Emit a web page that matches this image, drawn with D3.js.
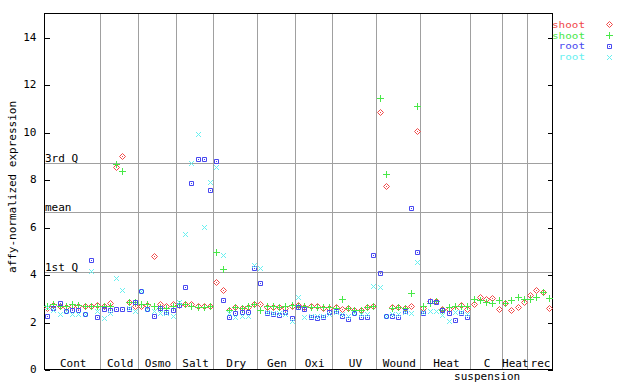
<!DOCTYPE html>
<html>
<head>
<meta charset="utf-8">
<script src="https://cdn.jsdelivr.net/npm/d3@7"></script>
<style>
  body { margin: 0; background: #fff; }
  svg { display: block; }
  text { font-family: "DejaVu Sans Mono", monospace; font-size: 11px; fill: #000; }
</style>
</head>
<body>
<svg id="chart" width="640" height="384"></svg>
<script>
// groups of samples along the x axis
const groups = ['Cont', 'Cold', 'Osmo', 'Salt', 'Dry', 'Gen', 'Oxi', 'UV', 'Wound', 'Heat', 'C\nsuspension', 'Heat', 'rec']
const groupSizes = [9, 6, 6, 6, 7, 6, 6, 7, 7, 8, 5, 4, 4]

// shoot / root replicates, one value per sample (null = not measured)
const shootA = [2.56, 2.68, 2.65, 2.62, 2.64, 2.64, 2.66, 2.66, 2.68,
  2.66, 2.77, 8.50, 8.98, 2.81, 2.66,
  2.66, 2.68, 4.75, 2.72, 2.64, 2.72,
  2.70, 2.72, 2.72, 2.66, 2.64, 2.66,
  3.67, 3.33, 2.49, 2.60, 2.56, 2.63, 2.73,
  2.75, 2.62, 2.62, 2.62, 2.55, 2.66,
  2.68, 2.62, 2.64, 2.64, 2.58, 2.58,
  2.60, 2.53, 2.56, 2.50, 2.49, 2.63, 2.66,
  10.82, 7.71, 2.60, 2.60, 2.56, 2.65, 10.02,
  2.58, 2.87, 2.87, 2.51, 2.54, 2.54, 2.70, 2.54,
  2.72, 3.05, 2.94, 2.98, 2.52,
  2.80, 2.49, 2.60, 2.81,
  3.12, 3.32, 3.24, 2.56]
const shootB = [2.65, 2.72, 2.65, 2.65, 2.74, 2.68, 2.66, 2.66, 2.66,
  2.66, 2.64, 8.64, 8.34, 2.81, 2.81,
  2.75, 2.72, 2.66, 2.56, 2.56, 2.66,
  2.72, 2.74, 2.66, 2.63, 2.60, 2.66,
  4.93, 4.21, 2.49, 2.63, 2.58, 2.67, 2.73,
  2.49, 2.66, 2.66, 2.60, 2.66, 2.68,
  2.66, 2.64, 2.60, 2.60, 2.62, 2.62,
  2.58, 2.95, 2.56, 2.49, 2.49, 2.63, 2.66,
  11.41, 8.22, 2.58, 2.60, 2.56, 3.19, 11.07,
  2.67, 2.80, 2.87, 2.49, 2.60, 2.64, 2.64, 2.64,
  2.94, 2.91, 2.81, 2.77, 2.91,
  2.78, 2.91, 3.05, 2.94,
  2.94, 3.05, 3.24, 3.00]
const rootA = [2.23, 2.56, 2.77, 2.46, 2.49, 2.49, 2.30, 4.59, 2.18,
  2.51, 2.49, 2.51, 2.51, 2.51, 2.81,
  3.30, 2.51, 2.25, 2.56, 2.39, 2.49,
  2.70, 3.47, 7.82, 8.85, 8.85, 7.54,
  8.77, 2.91, 2.20, 2.35, 2.42, 2.42, 4.24,
  3.61, 2.35, 2.30, 2.28, 2.42, 2.14,
  2.60, 2.51, 2.18, 2.14, 2.20, 2.42,
  2.46, 2.23, 2.11, 2.37, 2.20, 2.18, 4.79,
  4.03, 2.23, 2.23, 2.18, 2.44, 6.77, 4.92,
  2.35, 2.87, 2.84, 2.49, 2.35, 2.06, 2.35, 2.18,
  null, null, null, null, null,
  null, null, null, null,
  null, null, null, null]
const rootB = [2.60, 2.50, 2.30, 2.46, 2.30, 2.30, 2.30, 4.13, 2.44,
  2.14, 2.35, 3.85, 3.33, 2.55, 2.44,
  3.30, 2.51, 2.45, 2.35, 2.35, 2.25,
  2.84, 5.68, 8.67, 9.90, 5.97, 7.87,
  8.50, 4.79, 2.35, 2.20, 2.25, 2.25, 4.38,
  4.24, 2.42, 2.35, 2.35, 2.30, 2.04,
  3.05, 2.20, 2.25, 2.25, 2.25, 2.30,
  2.40, 2.30, 2.25, 2.37, 2.30, 2.30, 3.50,
  3.47, 2.23, 2.30, 2.30, 2.40, 2.35, 4.50,
  2.40, 2.44, 2.44, 2.28, 2.04, 2.40, 2.40, 2.30,
  null, null, null, null, null,
  null, null, null, null,
  null, null, null, null]

const seriesNames = ['shoot', 'shoot', 'root', 'root']
const seriesColors = ['#f04848', '#48e848', '#4848f0', '#68f0f0']
const seriesShapes = ['diamond', 'plus', 'box', 'cross']

// summary lines
const statNames = ['3rd Q', 'mean', '1st Q']
const statValues = [8.68, 6.61, 4.08]

const yTicks = [0, 2, 4, 6, 8, 10, 12, 14]

const svg = d3.select('#chart')
const margin = { left: 44, right: 552, top: 13, bottom: 369 }
const nSamples = d3.sum(groupSizes)

const x = d3.scaleLinear().domain([0, nSamples]).range([margin.left, margin.right])
const y = d3.scaleLinear().domain([0, 15]).range([margin.bottom, margin.top])
const px = v => Math.round(v) + 0.5

// group boundaries
const bounds = d3.cumsum(groupSizes)
const starts = [0, ...bounds.slice(0, -1)]

const gridG = svg.append('g').attr('shape-rendering', 'crispEdges')
gridG.selectAll('line.sep')
  .data(bounds.slice(0, -1))
  .enter().append('line')
  .attr('x1', d => px(x(d))).attr('x2', d => px(x(d)))
  .attr('y1', margin.top).attr('y2', margin.bottom)
  .attr('stroke', '#a0a0a0')

gridG.selectAll('line.stat')
  .data(statValues)
  .enter().append('line')
  .attr('x1', margin.left).attr('x2', margin.right)
  .attr('y1', d => px(y(d))).attr('y2', d => px(y(d)))
  .attr('stroke', '#a0a0a0')

svg.append('g').selectAll('text')
  .data(statValues)
  .enter().append('text')
  .attr('x', margin.left + 1)
  .attr('y', d => y(d) - 1)
  .text((d, i) => statNames[i])

// axes (ticks inside, mirrored on the right)
const yAxisL = d3.axisLeft(y).tickValues(yTicks).tickSizeInner(-5).tickSizeOuter(0).tickPadding(8)
const yAxisR = d3.axisRight(y).tickValues(yTicks).tickSizeInner(-5).tickSizeOuter(0).tickFormat('')
const gl = svg.append('g').attr('transform', `translate(${margin.left + 0.5},0)`).call(yAxisL)
const gr = svg.append('g').attr('transform', `translate(${margin.right + 0.5},0)`).call(yAxisR)
for (const g of [gl, gr]) {
  g.select('.domain').remove()
  g.attr('font-family', null).attr('font-size', null)
  g.selectAll('line').attr('stroke', '#000').attr('shape-rendering', 'crispEdges')
    .attr('transform', d => `translate(0,${px(y(d)) - y(d)})`)
}

svg.append('rect')
  .attr('x', margin.left + 0.5).attr('y', margin.top + 0.5)
  .attr('width', margin.right - margin.left).attr('height', margin.bottom - margin.top)
  .attr('fill', 'none').attr('stroke', '#000').attr('shape-rendering', 'crispEdges')

svg.append('text')
  .attr('transform', 'translate(16,187) rotate(-90)')
  .attr('text-anchor', 'middle')
  .text('affy-normalized expression')

// group labels
const labG = svg.append('g')
groups.forEach((name, i) => {
  const cx = x((starts[i] + bounds[i]) / 2)
  const t = labG.append('text').attr('text-anchor', 'middle').attr('x', cx + 1).attr('y', 367)
  name.split('\n').forEach((line, j) => {
    t.append('tspan').attr('x', cx + 1).attr('dy', j ? 12.5 : 0).text(line)
  })
})

// marker shapes, cx / cy are pixel centres
const shapePath = {
  diamond: (cx, cy) => `M${cx},${cy - 3}L${cx + 3},${cy}L${cx},${cy + 3}L${cx - 3},${cy}Z M${cx - 0.5},${cy}h1`,
  plus: (cx, cy) => `M${cx - 3.5},${cy}H${cx + 3.5}M${cx},${cy - 3.5}V${cy + 3.5}`,
  box: (cx, cy) => `M${cx - 2},${cy - 2}h4v4h-4Z M${cx - 0.5},${cy}h1`,
  cross: (cx, cy) => `M${cx - 2.5},${cy - 2.5}L${cx + 2.5},${cy + 2.5}M${cx + 2.5},${cy - 2.5}L${cx - 2.5},${cy + 2.5}`
}

const allSeries = [shootA, shootB, rootA, rootB]
allSeries.forEach((values, s) => {
  const pts = values.map((v, i) => ({ i, v })).filter(d => d.v != null)
  svg.append('g').selectAll('path')
    .data(pts)
    .enter().append('path')
    .attr('d', d => shapePath[seriesShapes[s]](px(x(d.i + 0.5)), px(y(d.v))))
    .attr('fill', 'none')
    .attr('stroke', seriesColors[s])
    .attr('stroke-width', 1)
})

// legend
const legY = [24, 35, 45.5, 56.5]
const legG = svg.append('g')
seriesNames.forEach((name, s) => {
  legG.append('text')
    .attr('x', 585).attr('y', legY[s] + 3.5)
    .attr('text-anchor', 'end')
    .style('fill', seriesColors[s])
    .style('font-size', '9px')
    .attr('textLength', name.length * 6.6)
    .attr('lengthAdjust', 'spacingAndGlyphs')
    .text(name)
  legG.append('path')
    .attr('d', shapePath[seriesShapes[s]](609.5, px(legY[s])))
    .attr('fill', 'none')
    .attr('stroke', seriesColors[s])
})
</script>
</body>
</html>
